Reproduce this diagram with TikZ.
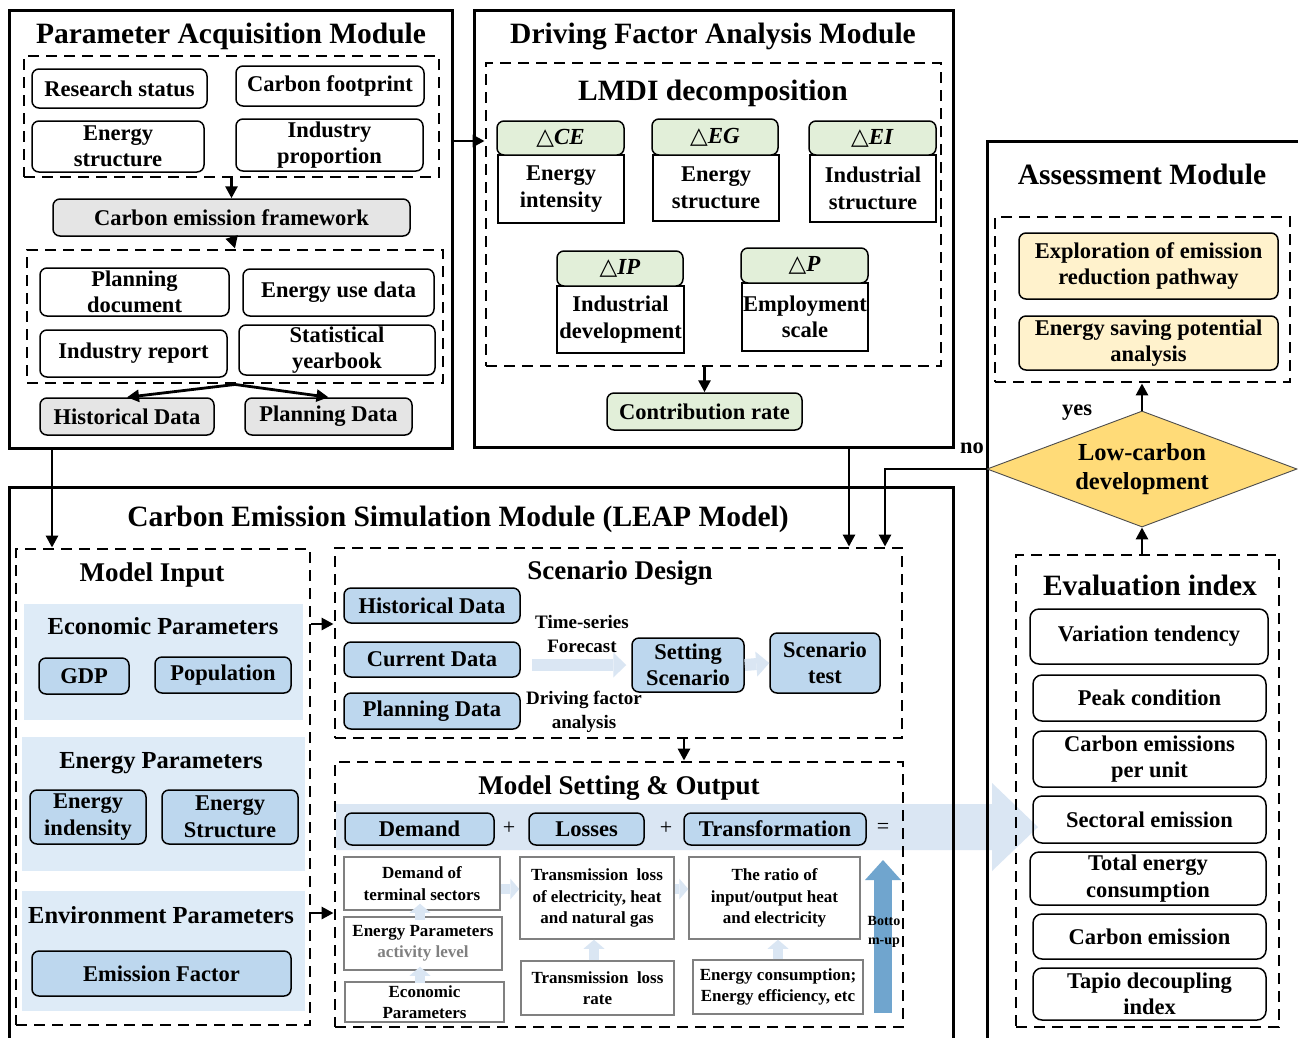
\documentclass[tikz,border=0pt]{standalone}
\usepackage{fontspec}
\setmainfont{Liberation Serif}
\newfontfamily\symfont{DejaVu Sans}
\usetikzlibrary{arrows.meta,shapes.geometric,calc}

\definecolor{greyfill}{RGB}{229,229,229}
\definecolor{greenfill}{RGB}{226,239,217}
\definecolor{yellowfill}{RGB}{255,242,204}
\definecolor{goldfill}{RGB}{255,219,120}
\definecolor{panelblue}{RGB}{222,235,247}
\definecolor{boxblue}{RGB}{189,215,238}
\definecolor{flowblue}{RGB}{218,230,243}
\definecolor{upblue}{RGB}{112,165,206}
\definecolor{edgegrey}{RGB}{128,128,128}

\newcommand\ftitle{\fontsize{29.5}{34}\selectfont\bfseries}
\newcommand\fsub{\fontsize{27}{31}\selectfont\bfseries}
\newcommand\fgrp{\fontsize{24.5}{28}\selectfont\bfseries}
\newcommand\fbody{\fontsize{22.5}{26.5}\selectfont\bfseries}
\newcommand\fhd{\fontsize{23}{27}\selectfont\bfseries}
\newcommand\fdia{\fontsize{24.5}{28.5}\selectfont\bfseries}
\newcommand\fsmall{\fontsize{17}{21.5}\selectfont\bfseries}
\newcommand\flabel{\fontsize{19}{24.5}\selectfont\bfseries}
\newcommand\ftiny{\fontsize{14}{19}\selectfont\bfseries}
\newcommand\tri{{\symfont\mdseries △}}

% \placebox[extra]{style}{x1}{y1}{x2}{y2}{name}{text}
\newcommand\placebox[8][]{%
  \pgfmathsetmacro\bxw{#5-#3}%
  \pgfmathsetmacro\bxh{#6-#4}%
  \node[#2,minimum width=\bxw pt,minimum height=\bxh pt,#1] (#7) at ({(#3+#5)/2},{(#4+#6)/2}) {#8};%
}

\begin{document}
\begin{tikzpicture}[x=1pt,y=-1pt,
  modbox/.style={draw,line width=3pt,inner sep=0pt},
  dbox/.style={draw,line width=2.9pt,dash pattern=on 11pt off 7pt,inner sep=0pt},
  wbox/.style={draw,line width=1.5pt,rounded corners=7pt,fill=white,font=\fbody,align=center,inner sep=0pt},
  gbox/.style={wbox,fill=greyfill},
  greenbox/.style={wbox,fill=greenfill},
  facthead/.style={wbox,fill=greenfill,font=\fhd},
  factbody/.style={draw,line width=1.5pt,fill=white,font=\fbody,align=center,inner sep=0pt},
  ybox/.style={wbox,fill=yellowfill},
  bluebox/.style={wbox,fill=boxblue},
  evbox/.style={draw,line width=1.5pt,rounded corners=9pt,font=\fbody,align=center,inner sep=0pt},
  panel/.style={fill=panelblue,inner sep=0pt},
  gbord/.style={draw=edgegrey,line width=1.5pt,fill=white,font=\fsmall,align=center,inner sep=0pt},
  conn/.style={line width=2.8pt,-{Triangle[length=12pt,width=12pt]}},
  flow/.style={draw=flowblue,line width=12pt,-{Triangle[length=13pt,width=25pt,line width=0pt]}},
  flowsm/.style={draw=flowblue,line width=10pt,-{Triangle[length=9pt,width=21pt,line width=0pt]}},
  decision/.style={diamond,draw=black!70,line width=0.9pt,fill=goldfill,aspect=2.67,
    minimum width=310pt,minimum height=116pt,inner sep=0pt,font=\fdia,align=center},
  modtitle/.style={font=\ftitle,anchor=base},
  subtitle/.style={font=\fsub,anchor=base},
  grptitle/.style={font=\fgrp,anchor=base},
]
\path[use as bounding box,fill=white] (0,0) rectangle (1298,1037);
\clip (0,0) rectangle (1298,1037);

% wide output arrow running from the LEAP stages into the evaluation index
\fill[flowblue] (336,804) -- (992,804) -- (992,783) -- (1038,827) -- (992,871)
  -- (992,850) -- (336,850) -- cycle;

% ---------- module frames ----------
\placebox{modbox}{9}{10}{452}{448}{pam}{}
\placebox{modbox}{474}{10}{953}{447}{dfam}{}
\placebox{modbox}{9}{487}{953}{1070}{cesm}{}
\placebox{modbox}{987}{141}{1320}{1070}{am}{}

\node[modtitle] (pamt) at (231,43) {Parameter Acquisition Module};
\node[modtitle] (dfamt) at (713,43) {Driving Factor Analysis Module};
\node[modtitle] (amt) at (1142,184) {Assessment Module};
\node[modtitle] (cesmt) at (458,526) {Carbon Emission Simulation Module (LEAP Model)};

% ---------- parameter acquisition ----------
\placebox{dbox}{24}{56}{439}{177}{pdone}{}
\placebox{wbox}{32}{69}{207}{108}{rs}{Research status}
\placebox{wbox}{236}{66}{424}{106}{cfp}{Carbon footprint}
\placebox{wbox}{32}{121}{204}{172}{es}{Energy\\structure}
\placebox{wbox}{236}{119}{423}{171}{ipr}{Industry\\proportion}
\placebox{gbox}{53}{199}{410}{236}{cef}{Carbon emission framework}
\placebox{dbox}{27}{250}{443}{383}{pdtwo}{}
\placebox{wbox}{40}{268}{229}{316}{pdoc}{Planning\\document}
\placebox{wbox}{243}{269}{434}{316}{eud}{Energy use data}
\placebox{wbox}{40}{330}{227}{377}{ir}{Industry report}
\placebox{wbox}{239}{325}{435}{375}{sy}{Statistical\\yearbook}
\placebox{gbox}{40}{398}{214}{435}{hd}{Historical Data}
\placebox{gbox}{245}{398}{412}{435}{pdat}{Planning Data}

% ---------- driving factor analysis ----------
\placebox{dbox}{486}{63}{941}{366}{lmdi}{}
\node[font=\ftitle,anchor=base] (lmdit) at (713,100) {LMDI decomposition};
\placebox{factbody}{498}{155}{624}{223}{ceb}{Energy\\intensity}
\placebox{facthead}{497}{121}{624}{155}{ceh}{\tri\textit{CE}}
\placebox{factbody}{653}{155}{779}{221}{egb}{Energy\\structure}
\placebox{facthead}{652}{119}{778}{155}{egh}{\tri\textit{EG}}
\placebox{factbody}{810}{155}{936}{222}{eib}{Industrial\\structure}
\placebox{facthead}{809}{121}{936}{155}{eih}{\tri\textit{EI}}
\placebox{factbody}{557}{286}{684}{353}{ipb}{Industrial\\development}
\placebox{facthead}{557}{251}{683}{286}{iph}{\tri\textit{IP}}
\placebox{factbody}{742}{283}{868}{351}{pb}{Employment\\scale}
\placebox{facthead}{741}{248}{868}{283}{ph}{\tri\textit{P}}
\placebox{greenbox}{607}{393}{802}{430}{cr}{Contribution rate}

% ---------- assessment ----------
\placebox{dbox}{995}{217}{1290}{382}{asd}{}
\placebox{ybox}{1019}{233}{1278}{299}{expl}{Exploration of emission\\reduction pathway}
\placebox{ybox}{1019}{316}{1278}{370}{esp}{Energy saving potential\\analysis}
\node[decision] (dia) at (1142,469) {Low-carbon\\development};
\node[font=\fbody,anchor=base] (yes) at (1077,415) {yes};
\node[font=\fbody,anchor=base] (no) at (972,453) {no};

\placebox{dbox}{1016}{555}{1279}{1027}{ei}{}
\node[modtitle] (eit) at (1150,595) {Evaluation index};
\placebox{evbox}{1030}{609}{1268}{664}{ev1}{Variation tendency}
\placebox{evbox}{1033}{675}{1266}{721}{ev2}{Peak condition}
\placebox{evbox}{1033}{731}{1266}{787}{ev3}{Carbon emissions\\per unit}
\placebox{evbox}{1033}{796}{1266}{843}{ev4}{Sectoral emission}
\placebox{evbox}{1030}{852}{1266}{905}{ev5}{Total energy\\consumption}
\placebox{evbox}{1033}{914}{1266}{959}{ev6}{Carbon emission}
\placebox{evbox}{1033}{968}{1266}{1020}{ev7}{Tapio decoupling\\index}

% ---------- model input ----------
\placebox{dbox}{16}{549}{310}{1025}{mi}{}
\node[subtitle] (mit) at (152,581) {Model Input};
\placebox{panel}{24}{604}{303}{720}{econp}{}
\placebox{panel}{22}{737}{305}{871}{enp}{}
\placebox{panel}{22}{891}{305}{1011}{envp}{}
\node[grptitle] (econt) at (163,634) {Economic Parameters};
\node[grptitle] (ent) at (161,768) {Energy Parameters};
\node[grptitle] (envt) at (161,923) {Environment Parameters};
\placebox{bluebox}{39}{658}{129}{694}{gdp}{GDP}
\placebox{bluebox}{155}{657}{291}{693}{pop}{Population}
\placebox{bluebox}{30}{790}{146}{844}{eind}{Energy\\indensity}
\placebox{bluebox}{162}{790}{298}{844}{estr}{Energy\\Structure}
\placebox{bluebox}{32}{951}{291}{996}{ef}{Emission Factor}

% ---------- scenario design ----------
\placebox{dbox}{335}{548}{902}{738}{sd}{}
\node[subtitle] (sdt) at (620,579) {Scenario Design};
\placebox{bluebox}{344}{588}{520}{623}{hdb}{Historical Data}
\placebox{bluebox}{344}{642}{520}{677}{cud}{Current Data}
\placebox{bluebox}{344}{693}{520}{729}{pdb}{Planning Data}
\placebox{bluebox}{632}{638}{744}{692}{setsc}{Setting\\Scenario}
\placebox{bluebox}{770}{633}{880}{693}{sctest}{Scenario\\test}
\node[font=\flabel,align=center] (tsf) at (582,634) {Time-series\\Forecast};
\node[font=\flabel,align=center] (dfa) at (584,712) {Driving factor\\analysis};
\coordinate (fa) at ([xshift=11pt]cud.east);
\draw[flow,shorten >=5pt] (fa |- setsc.west) -- (setsc.west);
\draw[flow] (setsc.east) -- (sctest.west);

% ---------- model setting & output ----------
\placebox{dbox}{335}{762}{903}{1027}{ms}{}
\node[subtitle] (mst) at (619,794) {Model Setting \& Output};
\placebox{bluebox}{345}{813}{494}{845}{dem}{Demand}
\placebox{bluebox}{529}{813}{644}{845}{los}{Losses}
\placebox{bluebox}{684}{813}{866}{845}{trf}{Transformation}
\node[font=\fontsize{22}{24}\selectfont] (plusa) at (509,828) {+};
\node[font=\fontsize{22}{24}\selectfont] (plusb) at (666,828) {+};
\node[font=\fontsize{22}{24}\selectfont] (eq) at (883,828) {=};

\placebox{gbord}{344}{857}{500}{910}{dts}{Demand of\\terminal sectors}
\placebox{gbord}{344}{917}{502}{970}{epal}{Energy Parameters\\\textcolor{edgegrey}{activity level}}
\placebox{gbord}{345}{982}{504}{1022}{ecp}{Economic\\Parameters}
\placebox{gbord}{520}{857}{674}{939}{tl}{Transmission\ \ loss\\of electricity, heat\\and natural gas}
\placebox{gbord}{521}{961}{674}{1015}{tlr}{Transmission\ \ loss\\rate}
\placebox{gbord}{689}{857}{860}{939}{ratio}{The ratio of\\input/output heat\\and electricity}
\placebox{gbord}{693}{960}{863}{1014}{ecf}{Energy consumption;\\Energy efficiency, etc}

\coordinate (yd) at (0,889);
\coordinate (xe) at (420,0);
\coordinate (xf) at (594,0);
\coordinate (xg) at (778,0);
\draw[flowsm] (dts.east |- yd) -- (tl.west |- yd);
\draw[flowsm] (tl.east |- yd) -- (ratio.west |- yd);
\draw[flowsm] ($(epal.north -| xe)+(0,4)$) -- ($(dts.south -| xe)+(0,-7)$);
\draw[flowsm] ($(ecp.north -| xe)+(0,2)$) -- ($(epal.south -| xe)+(0,-4)$);
\draw[flowsm] (tlr.north -| xf) -- (tl.south -| xf);
\draw[flowsm] (ecf.north -| xg) -- (ratio.south -| xg);

% bottom-up arrow
\coordinate (bua) at (883,1013);
\coordinate (bub) at (883,860);
\draw[draw=upblue,line width=18pt,-{Triangle[length=20pt,width=36pt,line width=0pt]}] (bua) -- (bub);
\node[font=\ftiny,align=center] (butxt) at (884,932) {Botto\\m-up};

% ---------- connectors ----------
\coordinate (ya) at (0,141);
\coordinate (yb) at (0,624);
\coordinate (yc) at (0,913);
\coordinate (xa) at (52,0);
\coordinate (xb) at (849,0);
\coordinate (xc) at (885,0);
\coordinate (xd) at (684,0);
\draw[conn] (pdone.south) -- (cef.north);
\draw[conn] (cef.south) -- (pdtwo.north);
\draw[conn] (pdtwo.south) -- (hd.north);
\draw[conn] (pdtwo.south) -- (pdat.north);
\draw[conn] (pam.east |- ya) -- (lmdi.west |- ya);
\draw[conn] (lmdi.south -| cr.north) -- (cr.north);
\draw[conn] (pam.south -| xa) -- (mi.north -| xa);
\draw[conn] (dfam.south -| xb) -- (sd.north -| xb);
\draw[conn] (dia.west) -| (sd.north -| xc);
\draw[conn] (dia.north) -- (dia.north |- asd.south);
\draw[conn] (ei.north -| dia.south) -- (dia.south);
\draw[conn] (mi.east |- yb) -- (sd.west |- yb);
\draw[conn] (mi.east |- yc) -- (ms.west |- yc);
\draw[conn] (sd.south -| xd) -- (ms.north -| xd);
\end{tikzpicture}
\end{document}
